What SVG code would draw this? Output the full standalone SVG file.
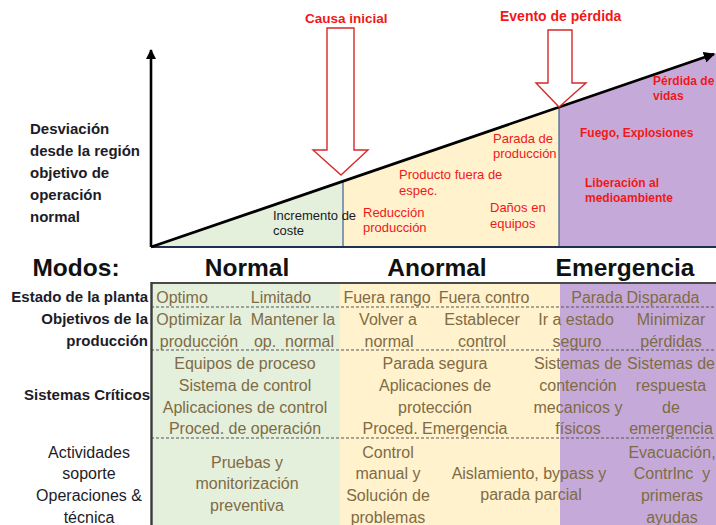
<svg xmlns="http://www.w3.org/2000/svg" width="716" height="525" viewBox="0 0 716 525">
  <style>
    text { font-family: "Liberation Sans", Arial, sans-serif; }
    .lbl { font-weight: bold; font-size: 15px; fill: #1c1c28; }
    .red { fill: #f01818; font-size: 13px; }
    .redb { fill: #f01818; font-size: 12px; font-weight: bold; }
    .cap { fill: #f01818; font-weight: bold; }
    .mode { font-weight: bold; font-size: 24.5px; fill: #111111; text-anchor: middle; }
    .cell { font-size: 16px; fill: #7f6b45; text-anchor: middle; }
    .rowh { font-weight: bold; font-size: 15px; fill: #1c1c28; text-anchor: end; }
    .act { font-size: 16px; fill: #1c1c28; text-anchor: middle; }
    .pre { white-space: pre; }
    .dash { stroke: #555555; stroke-width: 1; stroke-dasharray: 3 2; }
    .bigarrow { fill: #ffffff; stroke: #d42a2a; stroke-width: 1.4; }
    .divider { stroke: #3f5f8f; stroke-width: 1.2; }
  </style>
  <defs>
    <marker id="axisHead" viewBox="0 0 10 10" refX="9" refY="5" markerWidth="4" markerHeight="4" orient="auto">
      <path d="M0,0 L10,5 L0,10 z" fill="#000000"/>
    </marker>
  </defs>

  <rect width="716" height="525" fill="#ffffff"/>

  <!-- deviation chart: shaded stages under the rising line -->
  <g id="chart">
    <polygon points="151,247 343,181 343,247" fill="#e4f0dc"/>
    <polygon points="343,181 559,107 559,247 343,247" fill="#fff2cc"/>
    <polygon points="559,107 716,53 716,247 559,247" fill="#c5aad9"/>
    <line class="divider" x1="343" y1="181" x2="343" y2="247"/>
    <line class="divider" x1="559" y1="107" x2="559" y2="247"/>
    <line x1="151" y1="247" x2="716" y2="247" stroke="#1f2f50" stroke-width="2.2"/>
    <line x1="151" y1="247" x2="151" y2="50" stroke="#000000" stroke-width="2.6" marker-end="url(#axisHead)"/>
    <line x1="151" y1="247" x2="714" y2="54" stroke="#000000" stroke-width="2.8" marker-end="url(#axisHead)"/>
  </g>

  <g id="axis-label">
    <text class="lbl" x="30" y="134">Desviación</text>
    <text class="lbl" x="30" y="156">desde la región</text>
    <text class="lbl" x="30" y="178">objetivo de</text>
    <text class="lbl" x="30" y="200">operación</text>
    <text class="lbl" x="30" y="222">normal</text>
  </g>

  <g id="stage-normal">
    <text x="273" y="220" font-size="13" fill="#1a1a1a">Incremento de</text>
    <text x="273" y="235" font-size="13" fill="#1a1a1a">coste</text>
  </g>

  <g id="stage-abnormal">
    <text class="red" x="363" y="217">Reducción</text>
    <text class="red" x="363" y="232">producción</text>
    <text class="red" x="399" y="179">Producto fuera de</text>
    <text class="red" x="399" y="195">espec.</text>
    <text class="red" x="493" y="143">Parada de</text>
    <text class="red" x="493" y="158">producción</text>
    <text class="red" x="490" y="212">Daños en</text>
    <text class="red" x="490" y="228">equipos</text>
  </g>

  <g id="stage-emergency">
    <text class="redb" x="653" y="85" font-size="12.5">Pérdida de</text>
    <text class="redb" x="653" y="100" font-size="12.5">vidas</text>
    <text class="redb" x="580" y="137">Fuego, Explosiones</text>
    <text class="redb" x="585" y="187">Liberación al</text>
    <text class="redb" x="585" y="202">medioambiente</text>
  </g>

  <!-- event arrows pointing onto the deviation line -->
  <g id="connectors">
    <polygon class="bigarrow" points="327,28 354,28 354,150 368,150 341,175 313,150 327,150"/>
    <polygon class="bigarrow" points="548,30 572,30 572,83 586,83 559,107 536,83 548,83"/>
  </g>

  <g id="event-cause">
    <text class="cap" x="305" y="23" font-size="13.5">Causa inicial</text>
  </g>
  <g id="event-loss">
    <text class="cap" x="500" y="21" font-size="14">Evento de pérdida</text>
  </g>

  <!-- operating modes -->
  <g id="modes">
    <text class="mode" x="76" y="276">Modos:</text>
    <text class="mode" x="247" y="276">Normal</text>
    <text class="mode" x="437" y="276">Anormal</text>
    <text class="mode" x="625" y="276">Emergencia</text>
  </g>

  <!-- table of mode characteristics -->
  <g id="table">
    <rect x="151" y="283" width="189" height="242" fill="#e4f0dc"/>
    <rect x="340" y="283" width="220" height="242" fill="#fff2cc"/>
    <rect x="560" y="283" width="156" height="242" fill="#c5aad9"/>
    <line class="dash" x1="151" y1="307" x2="716" y2="307"/>
    <line class="dash" x1="151" y1="350" x2="716" y2="350"/>
    <line class="dash" x1="151" y1="438" x2="716" y2="438"/>
    <line x1="151" y1="283" x2="716" y2="283" stroke="#4a4a4a" stroke-width="2"/>
    <line x1="151.5" y1="282" x2="151.5" y2="525" stroke="#3a3a3a" stroke-width="2.4"/>
  </g>

  <g id="row-estado">
    <text class="rowh" x="148" y="302">Estado de la planta</text>
    <text class="cell" x="182" y="303">Optimo</text>
    <text class="cell" x="281" y="303">Limitado</text>
    <text class="cell" x="387" y="303">Fuera rango</text>
    <text class="cell" x="484" y="303">Fuera contro</text>
    <text class="cell" x="597" y="303">Parada</text>
    <text class="cell" x="663" y="303">Disparada</text>
  </g>

  <g id="row-objetivos">
    <text class="rowh" x="148" y="324">Objetivos de la</text>
    <text class="rowh" x="148" y="346">producción</text>
    <text class="cell" x="199" y="325">Optimizar la</text>
    <text class="cell" x="199" y="347">producción</text>
    <text class="cell" x="293" y="325">Mantener la</text>
    <text class="cell pre" x="294" y="347">op.  normal</text>
    <text class="cell" x="388" y="325">Volver a</text>
    <text class="cell" x="389" y="347">normal</text>
    <text class="cell" x="482" y="325">Establecer</text>
    <text class="cell" x="482" y="347">control</text>
    <text class="cell" x="576" y="325">Ir a estado</text>
    <text class="cell" x="577" y="347">seguro</text>
    <text class="cell" x="671" y="325">Minimizar</text>
    <text class="cell" x="671" y="347">pérdidas</text>
  </g>

  <g id="row-sistemas">
    <text class="rowh" x="150" y="400">Sistemas Críticos</text>
    <text class="cell" x="245" y="369">Equipos de proceso</text>
    <text class="cell" x="245" y="391">Sistema de control</text>
    <text class="cell" x="245" y="413">Aplicaciones de control</text>
    <text class="cell" x="245" y="434">Proced. de operación</text>
    <text class="cell" x="435" y="369">Parada segura</text>
    <text class="cell" x="435" y="391">Aplicaciones de</text>
    <text class="cell" x="435" y="413">protección</text>
    <text class="cell" x="435" y="434">Proced. Emergencia</text>
    <text class="cell" x="578" y="369">Sistemas de</text>
    <text class="cell" x="578" y="391">contención</text>
    <text class="cell" x="578" y="413">mecanicos y</text>
    <text class="cell" x="578" y="434">físicos</text>
    <text class="cell" x="671" y="369">Sistemas de</text>
    <text class="cell" x="671" y="391">respuesta</text>
    <text class="cell" x="671" y="413">de</text>
    <text class="cell" x="671" y="434">emergencia</text>
  </g>

  <g id="row-actividades">
    <text class="act" x="89" y="458">Actividades</text>
    <text class="act" x="89" y="479">soporte</text>
    <text class="act" x="89" y="501">Operaciones &amp;</text>
    <text class="act" x="89" y="523">técnica</text>
    <text class="cell" x="247" y="468">Pruebas y</text>
    <text class="cell" x="247" y="489">monitorización</text>
    <text class="cell" x="247" y="511">preventiva</text>
    <text class="cell" x="388" y="458">Control</text>
    <text class="cell" x="388" y="479">manual y</text>
    <text class="cell" x="388" y="501">Solución de</text>
    <text class="cell" x="388" y="523">problemas</text>
    <text class="cell" x="529" y="479">Aislamiento, bypass y</text>
    <text class="cell" x="531" y="500">parada parcial</text>
    <text class="cell" x="672" y="458">Evacuación,</text>
    <text class="cell pre" x="672" y="479">Contrlnc  y</text>
    <text class="cell" x="672" y="501">primeras</text>
    <text class="cell" x="672" y="523">ayudas</text>
  </g>
</svg>
